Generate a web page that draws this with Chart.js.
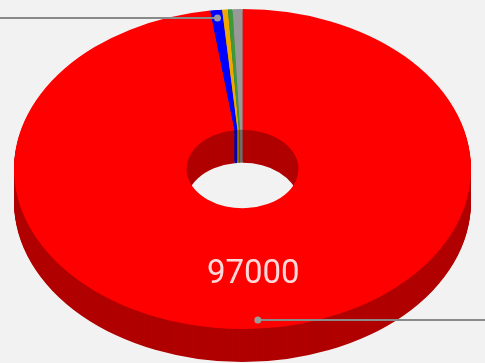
<!DOCTYPE html>
<html>
<head>
<meta charset="utf-8">
<style>
  html, body { margin: 0; padding: 0; background: #f2f2f2; overflow: hidden; }
  #wrap { width: 485px; height: 363px; }
  canvas { display: block; filter: blur(0.7px); }
</style>
<script src="https://cdn.jsdelivr.net/npm/chart.js@4/dist/chart.umd.min.js"></script>
</head>
<body>
<div id="wrap"><canvas id="pie" width="485" height="363"></canvas></div>
<script>
const categories = ['A', 'B', 'C', 'D', 'E'];
const values = [97000, 830, 400, 320, 690];
const labelValue = '97000';
const topColors = ['#ff0000', '#0000ff', '#f0a800', '#3c9a3c', '#999999'];
const wallColors = ['#b00000', '#0000b0', '#a87600', '#2a6c2a', '#6c6c6c'];

// where the flat doughnut lands on the page
const cx = 242.5, cy = 169, rx = 228.5, ry = 160, depth = 33;

function tilt(ctx, arc, offset) {
  ctx.translate(cx, cy + offset);
  ctx.scale(rx / arc.outerRadius, ry / arc.outerRadius);
  ctx.translate(-arc.x, -arc.y);
}

// page position of a point at a fraction of the radius, along the slice's middle angle
function onSlice(arc, f) {
  const a = (arc.startAngle + arc.endAngle) / 2;
  return { x: cx + Math.cos(a) * rx * f, y: cy + Math.sin(a) * ry * f };
}

function leader(ctx, p, endX) {
  ctx.strokeStyle = '#8a8a8a';
  ctx.lineWidth = 2;
  ctx.beginPath();
  ctx.moveTo(p.x, p.y);
  ctx.lineTo(endX, p.y);
  ctx.stroke();
  ctx.fillStyle = '#9a9a9a';
  ctx.beginPath();
  ctx.arc(p.x, p.y, 3.5, 0, Math.PI * 2);
  ctx.fill();
}

const tiltPlugin = {
  id: 'tilt',
  beforeDatasetsDraw(chart) {
    const ctx = chart.ctx;
    const arcs = chart.getDatasetMeta(0).data;
    // side walls: the ring stacked from the bottom up
    for (let d = depth; d >= 1; d--) {
      ctx.save();
      tilt(ctx, arcs[0], d);
      arcs.forEach((arc, i) => {
        ctx.fillStyle = wallColors[i];
        ctx.beginPath();
        ctx.arc(arc.x, arc.y, arc.outerRadius, arc.startAngle, arc.endAngle);
        ctx.arc(arc.x, arc.y, arc.innerRadius, arc.endAngle, arc.startAngle, true);
        ctx.closePath();
        ctx.fill();
      });
      ctx.restore();
    }
    ctx.save();
    tilt(ctx, arcs[0], 0);
  },
  afterDatasetsDraw(chart) {
    const ctx = chart.ctx;
    ctx.restore();
    const arcs = chart.getDatasetMeta(0).data;

    leader(ctx, onSlice(arcs[0], 0.946), 485);
    leader(ctx, onSlice(arcs[1], 0.95), 0);

    const p = onSlice(arcs[0], 0.665);
    ctx.fillStyle = 'rgba(255,255,255,0.85)';
    ctx.font = '33px Roboto';
    ctx.textAlign = 'center';
    ctx.textBaseline = 'middle';
    ctx.fillText(labelValue, p.x, p.y);
  }
};

new Chart(document.getElementById('pie'), {
  type: 'doughnut',
  data: {
    labels: categories,
    datasets: [{
      data: values,
      backgroundColor: topColors,
      borderWidth: 0
    }]
  },
  options: {
    responsive: false,
    animation: false,
    events: [],
    cutout: '24.5%',
    layout: { padding: 0 },
    plugins: { legend: { display: false }, tooltip: { enabled: false } }
  },
  plugins: [tiltPlugin]
});
</script>
</body>
</html>
